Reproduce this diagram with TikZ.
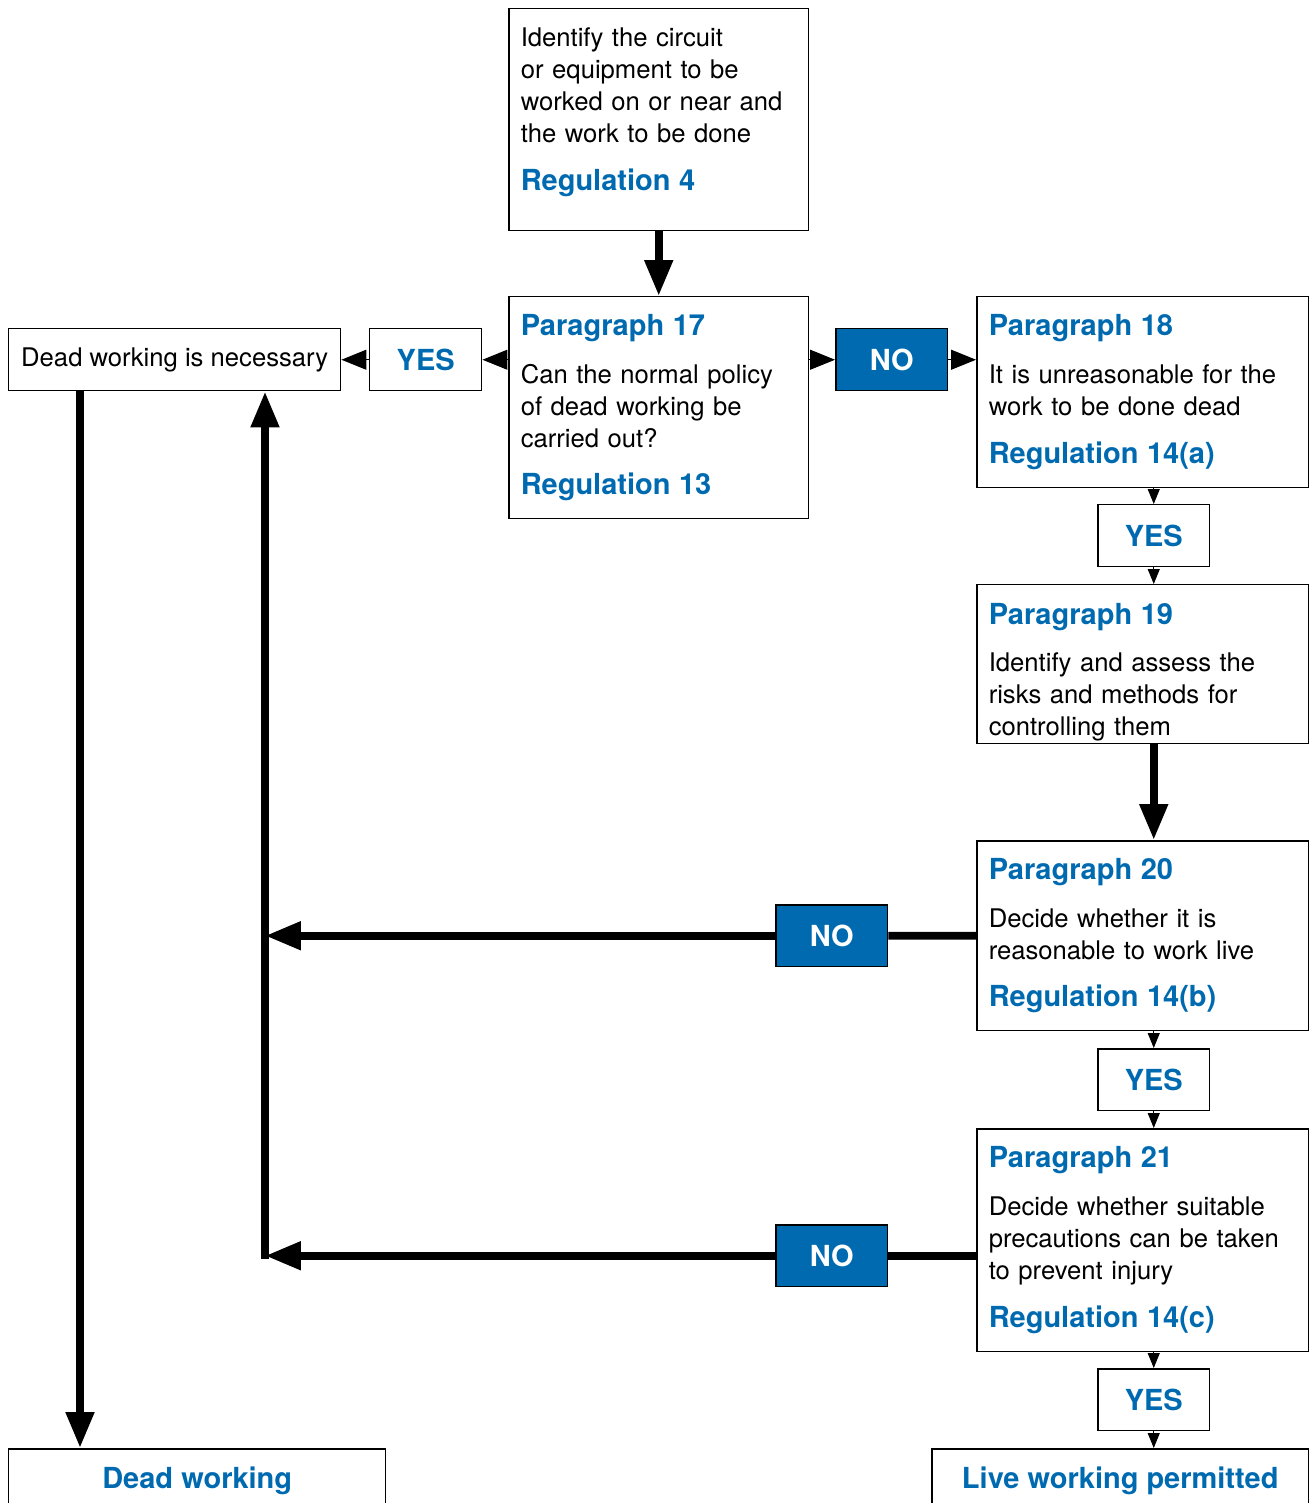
\documentclass[tikz,border=0pt]{standalone}
\usepackage{fontspec}
\setmainfont{TeX Gyre Heros}
\usepackage{tikz}
\usetikzlibrary{arrows.meta, positioning}
\definecolor{regblue}{RGB}{0,106,176}
\newcommand{\hd}[1]{{\fontsize{16.5}{18.2}\selectfont\bfseries\color{regblue}#1}}

\begin{document}
\begin{tikzpicture}[x=0.02cm, y=-0.02cm,
    frame/.style={draw, line width=0.85pt, anchor=north west},
    box/.style={frame, align=left, inner xsep=0.24cm, inner ysep=0pt, font=\fontsize{14.6}{18.2}\selectfont},
    yesbox/.style={frame, inner sep=0pt, minimum width=2.24cm, minimum height=1.24cm, font=\fontsize{16.5}{18.2}\selectfont\bfseries, text=regblue},
    nobox/.style={yesbox, fill=regblue, text=white},
    endbox/.style={frame, inner sep=0pt, minimum width=7.54cm, minimum height=1.28cm, font=\fontsize{16.5}{18.2}\selectfont\bfseries, text=regblue},
    heavy/.style={line width=4.5pt, -{Triangle[length=0.72cm, width=0.54cm]}},
    htip/.style={line width=0.6pt, -{Triangle[length=0.5cm, width=0.4cm]}},
    vtip/.style={line width=0.6pt, -{Triangle[length=0.3cm, width=0.24cm]}}]
    \useasboundingbox (0,0) rectangle (1310,1503);
    \clip (0,0) rectangle (1310,1503);

    \node[box, text width=5.52cm, minimum height=4.44cm] (ident) at (508,8) {Identify the circuit\\or equipment to be\\worked on or near and\\the work to be done\\[9pt]\hd{Regulation 4}\\[-6pt]\mbox{}};
    \node[box, text width=5.52cm, minimum height=4.44cm] (p17) at (508,296) {\hd{Paragraph 17}\\[9pt]Can the normal policy\\of dead working be\\carried out?\\[9pt]\hd{Regulation 13}};
    \node[yesbox] (yes1) at (369,328) {YES};
    \node[frame, inner sep=0pt, minimum width=6.64cm, minimum height=1.24cm, font=\fontsize{14.6}{18.2}\selectfont] (nec) at (8,328) {Dead working is necessary};
    \node[nobox] (no1) at (835,328) {NO};
    \node[box, text width=6.16cm, minimum height=3.82cm] (p18) at (976,296) {\hd{Paragraph 18}\\[9pt]It is unreasonable for the\\work to be done dead\\[9pt]\hd{Regulation 14(a)}};
    \node[yesbox] (yes2) at (1097,504) {YES};
    \node[box, text width=6.16cm, minimum height=3.18cm] (p19) at (976,584) {\mbox{}\\[3pt]\hd{Paragraph 19}\\[9pt]Identify and assess the\\risks and methods for\\controlling them};
    \node[box, text width=6.16cm, minimum height=3.8cm] (p20) at (976,840) {\hd{Paragraph 20}\\[9pt]Decide whether it is\\reasonable to work live\\[9pt]\hd{Regulation 14(b)}};
    \node[nobox] (no2) at (775,904) {NO};
    \node[yesbox] (yes3) at (1097,1048) {YES};
    \node[box, text width=6.16cm, minimum height=4.46cm] (p21) at (976,1128) {\hd{Paragraph 21}\\[9pt]Decide whether suitable\\precautions can be taken\\to prevent injury\\[9pt]\hd{Regulation 14(c)}};
    \node[nobox] (no3) at (775,1224) {NO};
    \node[yesbox] (yes4) at (1097,1368) {YES};
    \node[endbox] (deadw) at (8,1448) {Dead working};
    \node[endbox] (live) at (931,1448) {Live working permitted};
    \coordinate (spine) at (265,1259);
    \coordinate (down) at (80,0);

    \draw[heavy] (ident) -- (p17);
    \draw[htip] (p17.west |- yes1) -- (yes1);
    \draw[htip] (yes1) -- (nec);
    \draw[htip] (p17.east |- no1) -- (no1);
    \draw[htip] (no1) -- (p18.west |- no1);
    \draw[vtip] (yes2 |- p18.south) -- (yes2);
    \draw[vtip] (yes2) -- (yes2 |- p19.north);
    \draw[heavy] (yes2 |- p19.south) -- (yes2 |- p20.north);
    \draw[vtip] (yes3 |- p20.south) -- (yes3);
    \draw[vtip] (yes3) -- (yes3 |- p21.north);
    \draw[vtip] (yes4 |- p21.south) -- (yes4);
    \draw[vtip] (yes4) -- (yes4 |- live.north);
    \draw[line width=4.5pt] (p20) -- (no2);
    \draw[heavy] (no2) -- (spine |- no2);
    \draw[line width=4.5pt] (p21.west |- no3) -- (no3);
    \draw[heavy] (no3) -- (spine |- no3);
    \draw[heavy] (spine) -- (spine |- nec.south);
    \draw[heavy] (down |- nec.south) -- (down |- deadw.north);
\end{tikzpicture}
\end{document}
